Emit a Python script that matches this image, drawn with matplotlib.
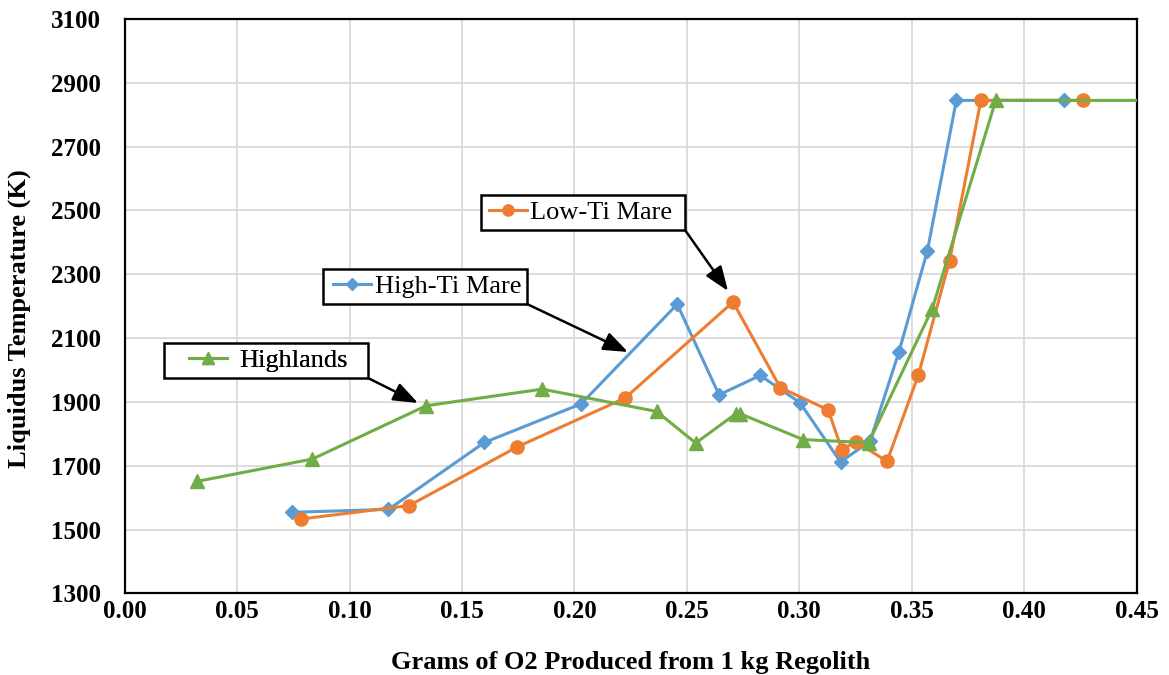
import matplotlib.pyplot as plt
from matplotlib.patches import Rectangle

plt.rcParams["font.family"] = ["Liberation Serif", "DejaVu Serif"]

# High-Ti Mare
hiti_x = [0.0745, 0.1173, 0.1600, 0.2030, 0.2457, 0.2643, 0.2826, 0.3002,
          0.3183, 0.3314, 0.3442, 0.3569, 0.3698, 0.4175]
hiti_t = [1554, 1563, 1773, 1894, 2206, 1922, 1983, 1898,
          1712, 1776, 2055, 2373, 2845, 2845]

# Low-Ti Mare
loti_x = [0.0786, 0.1265, 0.1746, 0.2225, 0.2705, 0.2915, 0.3128, 0.3189,
          0.3250, 0.3390, 0.3529, 0.3668, 0.3807, 0.4263]
loti_t = [1533, 1575, 1759, 1912, 2213, 1945, 1875, 1750,
          1775, 1714, 1984, 2343, 2845, 2845]

# Highlands
high_x = [0.0323, 0.0835, 0.1341, 0.1857, 0.2366, 0.2539, 0.2718, 0.2736,
          0.3017, 0.3308, 0.3591, 0.3873, 0.4700]
high_t = [1651, 1721, 1888, 1940, 1870, 1771, 1863, 1863,
          1782, 1772, 2192, 2845, 2845]

BLUE, ORANGE, GREEN = "#5B9BD5", "#ED7D31", "#70AD47"

fig = plt.figure(figsize=(11.69, 6.75), dpi=100)
ax = fig.add_axes([0.1066, 0.1210, 0.8658, 0.8508])

l_hi, = ax.plot(hiti_x, hiti_t, color=BLUE, lw=2.2, marker="D", ms=7, zorder=3)
l_lo, = ax.plot(loti_x, loti_t, color=ORANGE, lw=2.2, marker="o", ms=9.5, zorder=3)
l_hl, = ax.plot(high_x, high_t, color=GREEN, lw=2.2, marker="^", ms=9.5, zorder=3)

ax.set_xlim(0, 0.45)
ax.set_ylim(1300, 3100)
ax.set_xticks([i * 0.05 for i in range(10)])
ax.set_yticks(range(1300, 3101, 200))
ax.xaxis.set_major_formatter(plt.FormatStrFormatter("%.2f"))
ax.grid(True, color="#d9d9d9", lw=1.3, zorder=0)
ax.tick_params(length=0, labelsize=18)
ax.tick_params(axis="x", pad=5)
ax.tick_params(axis="y", pad=17)
for lab in ax.get_xticklabels() + ax.get_yticklabels():
    lab.set_fontweight("bold")
for s in ax.spines.values():
    s.set_color("black")
    s.set_linewidth(1.6)

ax.set_xlabel("Grams of O2 Produced from 1 kg Regolith", fontsize=19,
              fontweight="bold", labelpad=20)
ax.set_ylabel("Liquidus Temperature (K)", fontsize=19, fontweight="bold")
ax.yaxis.set_label_coords(-0.0925, 0.478)

W, H = fig.bbox.width, fig.bbox.height


def tag(handle, text, box, handle_x, textpad, tip):
    # box = (left, top, right, bottom) in image pixels, y counted from top
    x0, y0, x1, y1 = box
    ax.add_patch(Rectangle((x0 / W, 1 - y1 / H), (x1 - x0) / W, (y1 - y0) / H,
                           transform=fig.transFigure, facecolor="white",
                           edgecolor="black", lw=1.8, zorder=6, clip_on=False))
    leg = ax.legend([handle], [text], loc="center left",
                    bbox_to_anchor=(handle_x / W, 1 - (y0 + y1) / 2 / H),
                    bbox_transform=fig.transFigure, fontsize=19, frameon=False,
                    handlelength=1.45, handletextpad=textpad, borderpad=0,
                    borderaxespad=0, markerscale=0.85)
    leg.set_zorder(7)
    ax.add_artist(leg)
    ax.annotate("", xy=(tip[0] / W, 1 - tip[1] / H), xytext=(x1 / W, 1 - y1 / H),
                xycoords="figure fraction", textcoords="figure fraction",
                arrowprops=dict(arrowstyle="-|>,head_length=1.0,head_width=0.38",
                                mutation_scale=15, color="black", lw=1.8,
                                shrinkA=0, shrinkB=0),
                zorder=5)


tag(l_lo, "Low-Ti Mare", (481, 195, 685, 230), 489, 0.1, (728, 291))
tag(l_hi, "High-Ti Mare", (323, 269, 527, 304), 333, 0.15, (628, 352))
tag(l_hl, "Highlands", (164, 343, 368, 378), 189, 0.45, (418, 403))

fig.savefig("out.png", dpi=100)
